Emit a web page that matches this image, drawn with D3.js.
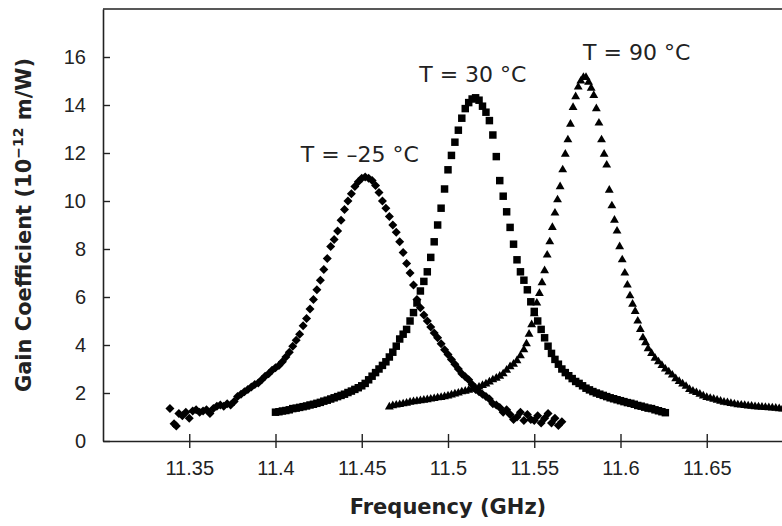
<!DOCTYPE html>
<html>
<head>
<meta charset="utf-8">
<script src="https://cdn.jsdelivr.net/npm/d3@7"></script>
<style>
  body { margin: 0; background: #fff; }
  svg { display: block; font-family: "DejaVu Sans", Verdana, sans-serif; }
</style>
</head>
<body>
<svg id="chart"></svg>
<script>
// T = -25 °C, diamonds: [frequency GHz, gain 1e-12 m/W]
const coldSeries = [
  [11.3388, 1.35], [11.3412, 0.72], [11.3425, 0.62], [11.3440, 1.15], [11.3460, 1.05],
  [11.3480, 1.2], [11.3500, 0.95], [11.3520, 1.25], [11.3540, 1.3], [11.3560, 1.2],
  [11.3580, 1.25], [11.3600, 1.3], [11.3620, 1.15], [11.3640, 1.35], [11.3660, 1.45],
  [11.3680, 1.5], [11.3700, 1.45], [11.3720, 1.55], [11.3740, 1.5], [11.3760, 1.65],
  [11.3780, 1.85], [11.3800, 1.95], [11.3820, 2.05], [11.3840, 2.15], [11.3860, 2.25],
  [11.3880, 2.35], [11.3900, 2.42], [11.3920, 2.55], [11.3940, 2.7], [11.3960, 2.8],
  [11.3980, 2.95], [11.4000, 3.05], [11.4020, 3.15], [11.4040, 3.3], [11.4060, 3.5],
  [11.4080, 3.7], [11.4100, 3.95], [11.4120, 4.2], [11.4140, 4.45], [11.4160, 4.8],
  [11.4180, 5.1], [11.4200, 5.5], [11.4220, 5.9], [11.4240, 6.3], [11.4260, 6.7],
  [11.4280, 7.15], [11.4300, 7.6], [11.4320, 8.1], [11.4340, 8.4], [11.4360, 8.75],
  [11.4380, 9.2], [11.4400, 9.65], [11.4420, 10.0], [11.4440, 10.3], [11.4460, 10.6],
  [11.4480, 10.8], [11.4500, 10.95], [11.4520, 11.0], [11.4540, 10.95], [11.4560, 10.85],
  [11.4580, 10.65], [11.4600, 10.35], [11.4620, 10.0], [11.4640, 9.7], [11.4660, 9.35],
  [11.4680, 9.0], [11.4700, 8.7], [11.4720, 8.3], [11.4740, 7.85], [11.4760, 7.4],
  [11.4780, 7.0], [11.4800, 6.5], [11.4820, 5.9], [11.4840, 5.55], [11.4860, 5.25],
  [11.4880, 5.0], [11.4900, 4.75], [11.4920, 4.5], [11.4940, 4.3], [11.4960, 4.05],
  [11.4980, 3.8], [11.5000, 3.6], [11.5020, 3.4], [11.5040, 3.2], [11.5060, 3.0],
  [11.5080, 2.8], [11.5100, 2.68], [11.5120, 2.55], [11.5140, 2.35], [11.5160, 2.15],
  [11.5180, 2.05], [11.5200, 1.95], [11.5220, 1.85], [11.5240, 1.75], [11.5260, 1.55],
  [11.5280, 1.5], [11.5300, 1.4], [11.5320, 1.2], [11.5340, 1.3], [11.5360, 1.1],
  [11.5380, 0.9], [11.5400, 1.0], [11.5420, 1.2], [11.5440, 0.85], [11.5460, 1.1],
  [11.5480, 0.9], [11.5500, 0.85], [11.5520, 1.05], [11.5540, 0.75], [11.5560, 0.95],
  [11.5580, 1.15], [11.5600, 0.75], [11.5620, 0.95], [11.5640, 0.65], [11.5660, 0.8]
];

// T = 30 °C, squares
const roomSeries = [
  [11.400, 1.2], [11.402, 1.22], [11.404, 1.25], [11.406, 1.27], [11.408, 1.3],
  [11.410, 1.35], [11.412, 1.37], [11.414, 1.4], [11.416, 1.43], [11.418, 1.46],
  [11.420, 1.5], [11.422, 1.53], [11.424, 1.57], [11.426, 1.61], [11.428, 1.66],
  [11.430, 1.7], [11.432, 1.75], [11.434, 1.8], [11.436, 1.85], [11.438, 1.9],
  [11.440, 1.95], [11.442, 2.02], [11.444, 2.08], [11.446, 2.15], [11.448, 2.22],
  [11.450, 2.3], [11.452, 2.4], [11.454, 2.55], [11.456, 2.7], [11.458, 2.85],
  [11.460, 3.0], [11.462, 3.15], [11.464, 3.3], [11.466, 3.5], [11.468, 3.7],
  [11.470, 3.95], [11.472, 4.25], [11.474, 4.45], [11.476, 4.65], [11.478, 5.0],
  [11.480, 5.35], [11.482, 5.75], [11.484, 6.25], [11.486, 6.65], [11.488, 7.05],
  [11.490, 7.65], [11.492, 8.3], [11.494, 9.0], [11.496, 9.7], [11.498, 10.5],
  [11.500, 11.3], [11.502, 11.9], [11.504, 12.45], [11.506, 12.95], [11.508, 13.45],
  [11.510, 13.85], [11.512, 14.1], [11.514, 14.25], [11.516, 14.3], [11.518, 14.2],
  [11.520, 13.95], [11.522, 13.7], [11.524, 13.35], [11.526, 12.75], [11.528, 11.85],
  [11.530, 10.85], [11.532, 10.2], [11.534, 9.55], [11.536, 8.9], [11.538, 8.2],
  [11.540, 7.55], [11.542, 7.05], [11.544, 6.7], [11.546, 6.3], [11.548, 5.8],
  [11.550, 5.4], [11.552, 5.0], [11.554, 4.65], [11.556, 4.3], [11.558, 3.95],
  [11.560, 3.65], [11.562, 3.4], [11.564, 3.2], [11.566, 3.0], [11.568, 2.85],
  [11.570, 2.72], [11.572, 2.6], [11.574, 2.48], [11.576, 2.4], [11.578, 2.3],
  [11.580, 2.2], [11.582, 2.13], [11.584, 2.06], [11.586, 2.0], [11.588, 1.95],
  [11.590, 1.9], [11.592, 1.85], [11.594, 1.8], [11.596, 1.76], [11.598, 1.72],
  [11.600, 1.68], [11.602, 1.64], [11.604, 1.6], [11.606, 1.57], [11.608, 1.53],
  [11.610, 1.48], [11.612, 1.45], [11.614, 1.41], [11.616, 1.37], [11.618, 1.35],
  [11.620, 1.3], [11.622, 1.26], [11.624, 1.22], [11.626, 1.18]
];

// T = 90 °C, triangles
const hotSeries = [
  [11.466, 1.42], [11.468, 1.47], [11.470, 1.5], [11.472, 1.52], [11.474, 1.55],
  [11.476, 1.58], [11.478, 1.62], [11.480, 1.64], [11.482, 1.66], [11.484, 1.68],
  [11.486, 1.7], [11.488, 1.72], [11.490, 1.75], [11.492, 1.77], [11.494, 1.8],
  [11.496, 1.82], [11.498, 1.85], [11.500, 1.88], [11.502, 1.92], [11.504, 1.96],
  [11.506, 2.0], [11.508, 2.05], [11.510, 2.08], [11.512, 2.12], [11.514, 2.16],
  [11.516, 2.2], [11.518, 2.25], [11.520, 2.32], [11.522, 2.38], [11.524, 2.46],
  [11.526, 2.55], [11.528, 2.62], [11.530, 2.7], [11.532, 2.8], [11.534, 2.95],
  [11.536, 3.1], [11.538, 3.2], [11.540, 3.35], [11.542, 3.55], [11.544, 3.8],
  [11.5455, 4.05], [11.547, 4.45], [11.5485, 4.85], [11.550, 5.3], [11.5515, 5.75],
  [11.553, 6.15], [11.5545, 6.6], [11.556, 7.1], [11.5575, 7.75], [11.559, 8.3],
  [11.5605, 8.9], [11.562, 9.5], [11.5635, 10.05], [11.565, 10.6], [11.5665, 11.3],
  [11.568, 11.95], [11.5695, 12.55], [11.571, 13.2], [11.5725, 13.9], [11.574, 14.35],
  [11.5755, 14.75], [11.577, 15.0], [11.5785, 15.15], [11.580, 15.15], [11.5815, 14.95],
  [11.583, 14.7], [11.5845, 14.4], [11.586, 13.85], [11.5875, 13.25], [11.589, 12.55],
  [11.5905, 11.95], [11.592, 11.5], [11.5935, 10.45], [11.595, 9.8], [11.5965, 9.2],
  [11.598, 8.75], [11.5995, 8.1], [11.601, 7.55], [11.6025, 7.0], [11.604, 6.5],
  [11.6055, 6.05], [11.607, 5.7], [11.6085, 5.4], [11.610, 5.0], [11.6115, 4.65],
  [11.613, 4.3], [11.6145, 4.1], [11.616, 3.85], [11.618, 3.65], [11.620, 3.45],
  [11.622, 3.3], [11.624, 3.15], [11.626, 3.0], [11.628, 2.88], [11.630, 2.75],
  [11.632, 2.6], [11.634, 2.48], [11.636, 2.38], [11.638, 2.28], [11.640, 2.15],
  [11.642, 2.08], [11.644, 2.02], [11.646, 1.95], [11.648, 1.88], [11.650, 1.82],
  [11.652, 1.78], [11.654, 1.74], [11.656, 1.7], [11.658, 1.66], [11.660, 1.62],
  [11.662, 1.6], [11.664, 1.57], [11.666, 1.54], [11.668, 1.51], [11.670, 1.5],
  [11.672, 1.48], [11.674, 1.46], [11.676, 1.45], [11.678, 1.43], [11.680, 1.42],
  [11.682, 1.41], [11.684, 1.4], [11.686, 1.39], [11.688, 1.38], [11.690, 1.37],
  [11.692, 1.35], [11.694, 1.34], [11.696, 1.33], [11.698, 1.32], [11.700, 1.31]
];

const xTicks = [11.35, 11.4, 11.45, 11.5, 11.55, 11.6, 11.65];
const xTickLabels = ["11.35", "11.4", "11.45", "11.5", "11.55", "11.6", "11.65"];
const yTicks = [0, 2, 4, 6, 8, 10, 12, 14, 16];

const peakLabels = [
  { text: "T = –25 °C", freq: 11.4489, gain: 11.62 },
  { text: "T = 30 °C", freq: 11.5144, gain: 14.96 },
  { text: "T = 90 °C", freq: 11.6094, gain: 15.88 }
];

const width = 782;
const height = 526;
const plot = { left: 103, top: 9, right: 793, bottom: 441 };

const svg = d3.select("#chart")
    .attr("width", width)
    .attr("height", height);

const x = d3.scaleLinear().domain([11.3, 11.7]).range([plot.left, plot.right]);
const y = d3.scaleLinear().domain([0, 18]).range([plot.bottom, plot.top]);

// frame: top and right edges
svg.append("path")
    .attr("d", `M${plot.left},${plot.top}H${plot.right}V${plot.bottom}`)
    .attr("fill", "none")
    .attr("stroke", "#222")
    .attr("stroke-width", 1.6);

const yAxis = svg.append("g")
    .attr("transform", `translate(${plot.left},0)`)
    .call(d3.axisLeft(y).tickValues(yTicks).tickSize(-7).tickPadding(17).tickSizeOuter(0));

const xAxis = svg.append("g")
    .attr("transform", `translate(0,${plot.bottom})`)
    .call(d3.axisBottom(x).tickValues(xTicks)
        .tickFormat((d, i) => xTickLabels[i])
        .tickSize(7).tickPadding(13).tickSizeOuter(0));
xAxis.selectAll(".tick line").attr("y1", -7);

[xAxis, yAxis].forEach(g => {
    g.select(".domain").attr("stroke", "#222").attr("stroke-width", 1.6);
    g.selectAll(".tick line").attr("stroke", "#222").attr("stroke-width", 1.4);
    g.selectAll(".tick text")
        .attr("font-family", null)
        .attr("font-size", 20)
        .attr("fill", "#222");
});

// rotated square for the -25 °C series
const diamondType = {
    draw(ctx, size) {
        const r = Math.sqrt(size) / 2;
        ctx.moveTo(0, -r); ctx.lineTo(r, 0); ctx.lineTo(0, r); ctx.lineTo(-r, 0); ctx.closePath();
    }
};

const seriesDefs = [
    { data: coldSeries, symbol: d3.symbol(diamondType, 81) },
    { data: roomSeries, symbol: d3.symbol(d3.symbolSquare, 56) },
    { data: hotSeries, symbol: d3.symbol(d3.symbolTriangle, 34) }
];

seriesDefs.forEach(s => {
    svg.append("g")
        .selectAll("path")
        .data(s.data)
        .join("path")
        .attr("transform", d => `translate(${x(d[0])},${y(d[1])})`)
        .attr("d", s.symbol)
        .attr("fill", "#000");
});

svg.append("g")
    .selectAll("text")
    .data(peakLabels)
    .join("text")
    .attr("x", d => x(d.freq))
    .attr("y", d => y(d.gain))
    .attr("text-anchor", "middle")
    .attr("font-size", 22)
    .attr("fill", "#222")
    .text(d => d.text);

svg.append("text")
    .attr("x", (plot.left + plot.right) / 2)
    .attr("y", 514)
    .attr("text-anchor", "middle")
    .attr("font-size", 21)
    .attr("font-weight", "bold")
    .attr("fill", "#222")
    .text("Frequency (GHz)");

const yTitle = svg.append("text")
    .attr("transform", "translate(31,225) rotate(-90)")
    .attr("text-anchor", "middle")
    .attr("font-size", 21)
    .attr("font-weight", "bold")
    .attr("fill", "#222");
yTitle.append("tspan").text("Gain Coefficient (10");
yTitle.append("tspan").attr("font-size", 14).attr("dy", -8).text("−12");
yTitle.append("tspan").attr("dy", 8).text(" m/W)");
</script>
</body>
</html>
